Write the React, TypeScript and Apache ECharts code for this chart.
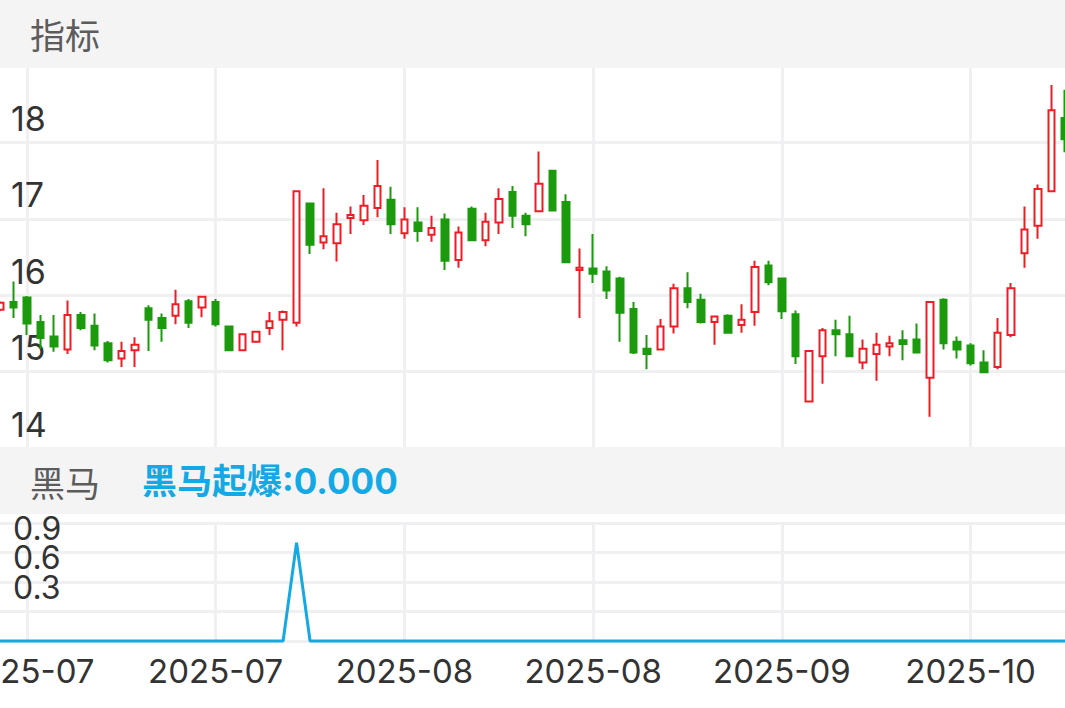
import React, { useEffect, useRef } from "react";
import * as echarts from "echarts";

const dates = [
  "2025-06-27", "2025-06-30", "2025-07-01", "2025-07-02", "2025-07-03", "2025-07-04", "2025-07-07", "2025-07-08",
  "2025-07-09", "2025-07-10", "2025-07-11", "2025-07-14", "2025-07-15", "2025-07-16", "2025-07-17", "2025-07-18",
  "2025-07-21", "2025-07-22", "2025-07-23", "2025-07-24", "2025-07-25", "2025-07-28", "2025-07-29", "2025-07-30",
  "2025-07-31", "2025-08-01", "2025-08-04", "2025-08-05", "2025-08-06", "2025-08-07", "2025-08-08", "2025-08-11",
  "2025-08-12", "2025-08-13", "2025-08-14", "2025-08-15", "2025-08-18", "2025-08-19", "2025-08-20", "2025-08-21",
  "2025-08-22", "2025-08-25", "2025-08-26", "2025-08-27", "2025-08-28", "2025-08-29", "2025-09-01", "2025-09-02",
  "2025-09-03", "2025-09-04", "2025-09-05", "2025-09-08", "2025-09-09", "2025-09-10", "2025-09-11", "2025-09-12",
  "2025-09-15", "2025-09-16", "2025-09-17", "2025-09-18", "2025-09-19", "2025-09-22", "2025-09-23", "2025-09-24",
  "2025-09-25", "2025-09-26", "2025-09-29", "2025-09-30", "2025-10-09", "2025-10-10", "2025-10-13", "2025-10-14",
  "2025-10-15", "2025-10-16", "2025-10-17", "2025-10-20", "2025-10-21", "2025-10-22", "2025-10-23", "2025-10-24",
];

const opens = [
  15.81, 15.91, 15.97, 15.65, 15.46, 15.29, 15.74, 15.6, 15.37, 15.17,
  15.28, 15.83, 15.7, 15.73, 15.92, 15.84, 15.91, 15.59, 15.28, 15.39,
  15.57, 15.68, 15.64, 17.2, 16.69, 16.68, 17.01, 16.98, 17.14, 17.25,
  16.81, 16.95, 16.79, 16.99, 16.46, 17.13, 16.72, 16.95, 17.35, 17.04,
  17.1, 17.63, 17.22, 16.33, 16.35, 16.31, 16.22, 15.82, 15.3, 15.29,
  15.59, 16.09, 15.94, 15.65, 15.73, 15.61, 15.78, 16.39, 16.22, 15.75,
  14.61, 15.2, 15.54, 15.49, 15.12, 15.23, 15.33, 15.41, 15.42, 14.92,
  15.94, 15.39, 15.34, 15.12, 15.06, 15.48, 16.55, 16.91, 17.36, 18.32,
];
const closes = [
  15.9, 15.84, 15.63, 15.44, 15.33, 15.74, 15.57, 15.34, 15.15, 15.27,
  15.35, 15.68, 15.57, 15.88, 15.64, 15.98, 15.62, 15.28, 15.49, 15.52,
  15.66, 15.78, 17.36, 16.66, 16.77, 16.93, 17.05, 17.17, 17.43, 16.93,
  16.99, 16.84, 16.88, 16.45, 16.82, 16.72, 16.96, 17.26, 17.04, 16.93,
  17.46, 17.11, 16.43, 16.36, 16.28, 16.06, 15.77, 15.25, 15.23, 15.59,
  16.09, 15.91, 15.65, 15.72, 15.51, 15.68, 16.37, 16.17, 15.79, 15.2,
  15.27, 15.54, 15.49, 15.2, 15.3, 15.35, 15.37, 15.36, 15.25, 15.91,
  15.37, 15.29, 15.11, 14.99, 15.51, 16.09, 16.86, 17.39, 18.42, 18.04,
];
const lows = [
  15.79, 15.7, 15.48, 15.3, 15.26, 15.23, 15.54, 15.28, 15.12, 15.06,
  15.06, 15.27, 15.39, 15.62, 15.57, 15.71, 15.59, 15.28, 15.27, 15.38,
  15.48, 15.28, 15.59, 16.54, 16.6, 16.44, 16.8, 16.92, 17.02, 16.8,
  16.74, 16.7, 16.7, 16.33, 16.36, 16.71, 16.64, 16.8, 16.88, 16.77,
  17.1, 17.1, 16.43, 15.7, 16.16, 15.95, 15.39, 15.23, 15.03, 15.29,
  15.5, 15.83, 15.63, 15.35, 15.51, 15.51, 15.6, 16.13, 15.69, 15.1,
  14.61, 14.84, 15.2, 15.2, 15.03, 14.88, 15.2, 15.15, 15.25, 14.41,
  15.29, 15.17, 15.08, 14.99, 15.03, 15.45, 16.36, 16.74, 17.36, 17.87,
];
const highs = [
  15.92, 16.18, 15.99, 15.74, 15.74, 15.93, 15.78, 15.76, 15.4, 15.39,
  15.45, 15.87, 15.76, 16.07, 15.95, 15.99, 15.95, 15.59, 15.49, 15.53,
  15.78, 15.8, 17.36, 17.2, 17.4, 17.08, 17.16, 17.31, 17.77, 17.42,
  17.15, 17.15, 17.04, 17.07, 16.9, 17.16, 17.08, 17.4, 17.43, 17.08,
  17.88, 17.64, 17.32, 16.61, 16.8, 16.38, 16.24, 15.91, 15.48, 15.69,
  16.15, 16.3, 16.02, 15.72, 15.75, 15.88, 16.45, 16.45, 16.23, 15.8,
  15.27, 15.57, 15.68, 15.73, 15.42, 15.51, 15.47, 15.54, 15.63, 15.91,
  15.96, 15.46, 15.37, 15.28, 15.7, 16.16, 17.16, 17.45, 18.75, 18.69,
];

const signal = [
  0, 0, 0, 0, 0, 0, 0, 0, 0, 0,
  0, 0, 0, 0, 0, 0, 0, 0, 0, 0,
  0, 0, 1, 0, 0, 0, 0, 0, 0, 0,
  0, 0, 0, 0, 0, 0, 0, 0, 0, 0,
  0, 0, 0, 0, 0, 0, 0, 0, 0, 0,
  0, 0, 0, 0, 0, 0, 0, 0, 0, 0,
  0, 0, 0, 0, 0, 0, 0, 0, 0, 0,
  0, 0, 0, 0, 0, 0, 0, 0, 0, 0,
];

const priceMin = 14;
const priceMax = 19;
const priceStep = 1;
const signalMin = 0;
const signalMax = 1.2;
const signalStep = 0.3;

const mainTitle = "指标";
const subTitle = "黑马";
const signalName = "黑马起爆";
const signalValueText = "0.000";

const RED = "#ee1c24";
const GREEN = "#1a9a0c";
const BLUE = "#14a9e4";
const GRID = "#f0f0f2";
const BAND = "#f4f4f5";
const LATIN = "Inter, Roboto, sans-serif";
const CJK = "'Noto Sans CJK SC', sans-serif";
const MIXED = "Inter, 'Noto Sans CJK SC', sans-serif";

export default function App() {
  const ref = useRef<HTMLDivElement>(null);

  useEffect(() => {
    if (!ref.current) return;
    const chart = echarts.init(ref.current, null, { renderer: "svg" });
    const every = (i: number) => (i - 2) % 14 === 0;

    const candles = dates.map((_, i) => [opens[i], closes[i], lows[i], highs[i]]);

    const xCommon = {
      type: "category" as const,
      data: dates,
      boundaryGap: false,
      axisLine: { show: false },
      axisTick: { show: false, interval: every },
      splitLine: { show: true, interval: every, lineStyle: { color: GRID, width: 3 } },
    };

    const option: any = {
      animation: false,
      backgroundColor: "#ffffff",
      grid: [
        { left: 0, right: 0, top: 66, height: 382, outerBoundsMode: "none", containLabel: false },
        { left: 0, right: 0, top: 523, height: 118, outerBoundsMode: "none", containLabel: false },
      ],
      xAxis: [
        { ...xCommon, gridIndex: 0, axisLabel: { show: false, interval: every } },
        {
          ...xCommon,
          gridIndex: 1,
          axisLabel: {
            show: true,
            interval: every,
            formatter: (v: string) => v.slice(0, 7),
            fontSize: 33,
            color: "#333333",
            fontFamily: LATIN,
            margin: 30,
            verticalAlign: "middle",
          },
        },
      ],
      yAxis: [
        {
          type: "value",
          gridIndex: 0,
          min: priceMin,
          max: priceMax,
          interval: priceStep,
          axisLine: { show: false },
          axisTick: { show: false },
          splitLine: { show: true, lineStyle: { color: GRID, width: 3 } },
          axisLabel: {
            inside: true,
            margin: 11,
            fontSize: 34,
            color: "#333333",
            fontFamily: LATIN,
            showMaxLabel: false,
            verticalAlign: "bottom",
            lineHeight: 48,
          },
        },
        {
          type: "value",
          gridIndex: 1,
          min: signalMin,
          max: signalMax,
          interval: signalStep,
          axisLine: { show: false },
          axisTick: { show: false },
          splitLine: { show: true, lineStyle: { color: GRID, width: 3 } },
          axisLabel: {
            inside: true,
            margin: 13,
            fontSize: 32,
            color: "#333333",
            fontFamily: LATIN,
            showMaxLabel: false,
            showMinLabel: false,
            verticalAlign: "bottom",
            lineHeight: 49,
            formatter: (v: number) => v.toFixed(1),
          },
        },
      ],
      series: [
        {
          type: "candlestick",
          xAxisIndex: 0,
          yAxisIndex: 0,
          data: candles,
          barWidth: 7,
          clip: true,
          itemStyle: {
            color: "#ffffff",
            color0: GREEN,
            borderColor: RED,
            borderColor0: GREEN,
            borderWidth: 2,
          },
        },
        {
          type: "line",
          xAxisIndex: 1,
          yAxisIndex: 1,
          data: signal,
          symbol: "none",
          lineStyle: { color: BLUE, width: 3 },
          clip: false,
          z: 5,
        },
      ],
      graphic: [
        { type: "rect", z: 100, shape: { x: 0, y: 0, width: 1065, height: 68 }, style: { fill: BAND } },
        { type: "rect", z: 100, shape: { x: 0, y: 447, width: 1065, height: 67 }, style: { fill: BAND } },
        {
          type: "text",
          z: 101,
          x: 30,
          y: 33,
          style: {
            text: mainTitle,
            fontSize: 35,
            fontFamily: CJK,
            fill: "#5c5c5c",
            textVerticalAlign: "middle",
            verticalAlign: "middle",
          },
        },
        {
          type: "text",
          z: 101,
          x: 30,
          y: 481,
          style: {
            text: subTitle,
            fontSize: 35,
            fontFamily: CJK,
            fill: "#5c5c5c",
            textVerticalAlign: "middle",
            verticalAlign: "middle",
          },
        },
        {
          type: "text",
          z: 101,
          x: 142,
          y: 481,
          style: {
            text: signalName + ":" + signalValueText,
            fontSize: 35,
            fontWeight: "bold",
            fontFamily: MIXED,
            fill: BLUE,
            textVerticalAlign: "middle",
            verticalAlign: "middle",
          },
        },
      ],
    };

    chart.setOption(option);
    return () => chart.dispose();
  }, []);

  return (
    <div
      ref={ref}
      style={{ position: "fixed", left: 0, top: 0, width: 1065, height: 708, background: "#ffffff" }}
    />
  );
}
